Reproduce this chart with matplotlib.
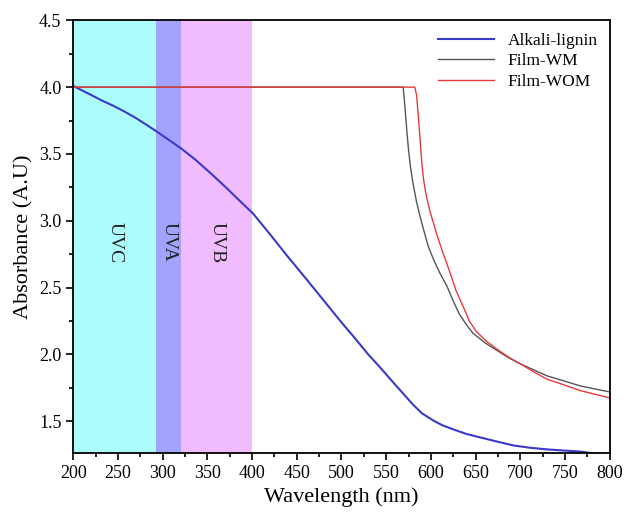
import matplotlib
matplotlib.use('Agg')
import matplotlib.pyplot as plt

plt.rcParams['font.family'] = ['Liberation Serif', 'DejaVu Serif']

# Alkali-lignin spectrum
lignin_nm = [200, 210, 219, 232, 245, 258, 271, 282, 294, 307, 321, 337, 353,
             370, 383, 401, 420, 439, 460, 477, 500, 514, 530, 543, 558, 570,
             580, 590, 603, 613, 625, 640, 655, 670, 692, 710, 730, 750, 767,
             780, 800]
lignin_abs = [4.01, 3.975, 3.945, 3.90, 3.86, 3.815, 3.765, 3.718, 3.665,
              3.605, 3.54, 3.455, 3.36, 3.255, 3.17, 3.055, 2.90, 2.74, 2.57,
              2.43, 2.24, 2.13, 2.00, 1.905, 1.79, 1.70, 1.625, 1.56, 1.505,
              1.47, 1.44, 1.405, 1.38, 1.355, 1.32, 1.303, 1.29, 1.281, 1.274,
              1.262, 1.25]

# Film-WM
wm_nm = [200, 569, 571, 573, 575, 577, 580, 584, 588, 592, 597, 603, 610,
         618, 625, 632, 640, 647, 660, 674, 687, 700, 715, 730, 750, 767,
         785, 800]
wm_abs = [4.0, 4.0, 3.85, 3.68, 3.53, 3.41, 3.28, 3.14, 3.03, 2.93, 2.81,
          2.71, 2.61, 2.51, 2.40, 2.30, 2.22, 2.16, 2.09, 2.03, 1.975, 1.93,
          1.885, 1.84, 1.80, 1.765, 1.74, 1.72]

# Film-WOM
wom_nm = [200, 582, 584, 586, 588, 590, 592, 595, 599, 603, 606, 613, 621,
          628, 636, 643, 651, 662, 674, 687, 700, 715, 730, 750, 767, 785, 800]
wom_abs = [4.0, 4.0, 3.94, 3.78, 3.60, 3.42, 3.30, 3.18, 3.07, 2.98, 2.91,
           2.77, 2.62, 2.48, 2.36, 2.25, 2.17, 2.10, 2.04, 1.98, 1.93, 1.87,
           1.815, 1.77, 1.73, 1.70, 1.675]

# UV bands
band_names = ['UVC', 'UVA', 'UVB']
band_edges = [(200, 293), (293, 321), (321, 400)]
band_colors = ['#adfcfc', '#a3a3ff', '#f0bbff']

fig = plt.figure(figsize=(6.26, 5.21), dpi=100)
ax = fig.add_axes([0.117, 0.131, 0.857, 0.830])

for name, (a, b), c in zip(band_names, band_edges, band_colors):
    ax.axvspan(a, b, color=c, lw=0, zorder=0)
    ax.text((a + b) / 2, 2.84, name, rotation=270, ha='center', va='center',
            fontsize=14, color='#222222')

ax.plot(lignin_nm, lignin_abs, color='#3a3ac8', lw=1.5, label='Alkali-lignin')
ax.plot(wm_nm, wm_abs, color='#555555', lw=1.0, label='Film-WM')
ax.plot(wom_nm, wom_abs, color='#e83a3a', lw=1.0, label='Film-WOM')

ax.set_xlim(200, 800)
ax.set_ylim(1.265, 4.5)
ax.set_xticks(range(200, 801, 50))
ax.set_xticks(range(225, 800, 50), minor=True)
ax.set_yticks([1.5, 2.0, 2.5, 3.0, 3.5, 4.0, 4.5])
ax.set_yticks([1.75, 2.25, 2.75, 3.25, 3.75, 4.25], minor=True)
ax.yaxis.set_major_formatter(matplotlib.ticker.FormatStrFormatter('%.1f'))
ax.tick_params(which='both', direction='out', labelsize=13, width=1.2)
ax.tick_params(which='major', length=5)
ax.tick_params(which='minor', length=3)
for s in ax.spines.values():
    s.set_linewidth(1.3)

ax.set_xlabel('Wavelength (nm)', fontsize=16)
ax.set_ylabel('Absorbance (A.U)', fontsize=16)

ax.legend(loc='upper right', frameon=False, fontsize=12.5, handlelength=3.2,
          borderaxespad=0.3, labelspacing=0.25)

fig.savefig('out.png', dpi=100)
